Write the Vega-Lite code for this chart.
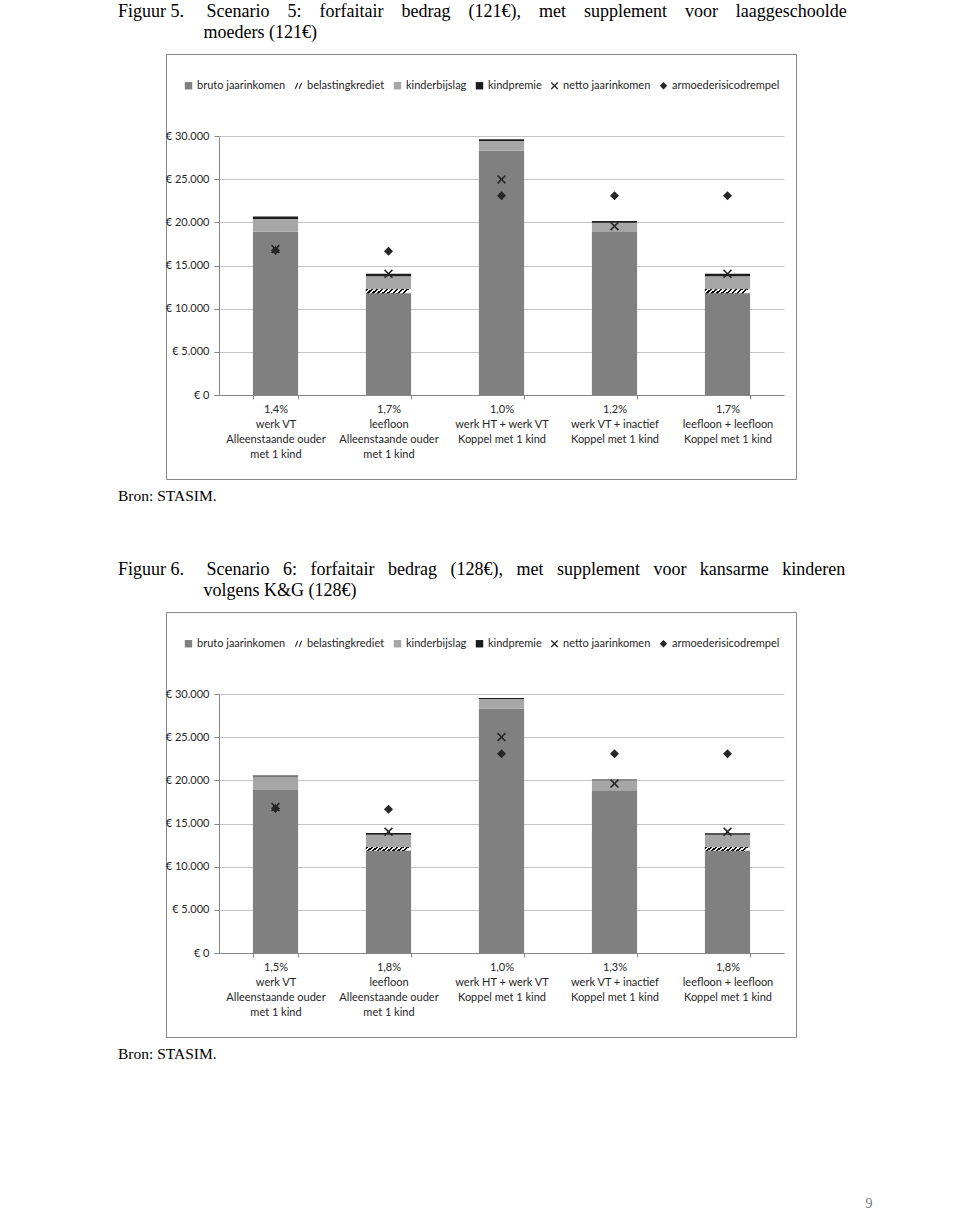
{
  "$schema": "https://vega.github.io/schema/vega-lite/v6.json",
  "background": "white",
  "padding": {"left": 117, "top": 2, "right": 0, "bottom": 0},
  "spacing": 55,
  "resolve": {"scale": {"color": "independent", "shape": "independent"}, "legend": {"color": "independent", "shape": "independent"}},
  "title": {"text": "9", "orient": "bottom", "anchor": "start", "align": "center", "dx": 703, "offset": 134, "font": "Liberation Serif", "fontSize": 14, "color": "#777777"},
  "config": {
    "font": "Lato",
    "view": {"stroke": "#878787", "strokeWidth": 1},
    "axis": {"labelFont": "Lato", "labelFontSize": 11, "labelColor": "#262626", "domainColor": "#868686", "tickColor": "#868686", "title": null},
    "legend": {"orient": "none", "legendX": 17, "legendY": 26, "direction": "horizontal", "title": null, "labelFont": "Lato", "labelFontSize": 11, "labelColor": "#262626", "symbolSize": 55, "labelOffset": 3, "columnPadding": 7, "symbolStrokeWidth": 0},
    "title": {"font": "Liberation Serif", "fontSize": 18, "fontWeight": "normal", "color": "#000000", "anchor": "start", "frame": "group", "lineHeight": 21}
  },
  "datasets": {
    "b5": [
      {"cat": "1,4%|werk VT|Alleenstaande ouder|met 1 kind", "series": "bruto jaarinkomen", "k": 1, "val": 18900},
      {"cat": "1,4%|werk VT|Alleenstaande ouder|met 1 kind", "series": "kinderbijslag", "k": 3, "val": 1500},
      {"cat": "1,4%|werk VT|Alleenstaande ouder|met 1 kind", "series": "kindpremie", "k": 4, "val": 280},
      {"cat": "1,7%|leefloon|Alleenstaande ouder|met 1 kind", "series": "bruto jaarinkomen", "k": 1, "val": 11800},
      {"cat": "1,7%|leefloon|Alleenstaande ouder|met 1 kind", "series": "belastingkrediet", "k": 2, "val": 460},
      {"cat": "1,7%|leefloon|Alleenstaande ouder|met 1 kind", "series": "kinderbijslag", "k": 3, "val": 1490},
      {"cat": "1,7%|leefloon|Alleenstaande ouder|met 1 kind", "series": "kindpremie", "k": 4, "val": 280},
      {"cat": "1,0%|werk HT + werk VT|Koppel met 1 kind", "series": "bruto jaarinkomen", "k": 1, "val": 28300},
      {"cat": "1,0%|werk HT + werk VT|Koppel met 1 kind", "series": "kinderbijslag", "k": 3, "val": 1120},
      {"cat": "1,0%|werk HT + werk VT|Koppel met 1 kind", "series": "kindpremie", "k": 4, "val": 200},
      {"cat": "1,2%|werk VT + inactief|Koppel met 1 kind", "series": "bruto jaarinkomen", "k": 1, "val": 18870},
      {"cat": "1,2%|werk VT + inactief|Koppel met 1 kind", "series": "kinderbijslag", "k": 3, "val": 1080},
      {"cat": "1,2%|werk VT + inactief|Koppel met 1 kind", "series": "kindpremie", "k": 4, "val": 200},
      {"cat": "1,7%|leefloon + leefloon|Koppel met 1 kind", "series": "bruto jaarinkomen", "k": 1, "val": 11800},
      {"cat": "1,7%|leefloon + leefloon|Koppel met 1 kind", "series": "belastingkrediet", "k": 2, "val": 460},
      {"cat": "1,7%|leefloon + leefloon|Koppel met 1 kind", "series": "kinderbijslag", "k": 3, "val": 1490},
      {"cat": "1,7%|leefloon + leefloon|Koppel met 1 kind", "series": "kindpremie", "k": 4, "val": 280}
    ],
    "p5": [
      {"cat": "1,4%|werk VT|Alleenstaande ouder|met 1 kind", "series": "armoederisicodrempel", "val": 16750},
      {"cat": "1,7%|leefloon|Alleenstaande ouder|met 1 kind", "series": "armoederisicodrempel", "val": 16660},
      {"cat": "1,0%|werk HT + werk VT|Koppel met 1 kind", "series": "armoederisicodrempel", "val": 23080},
      {"cat": "1,2%|werk VT + inactief|Koppel met 1 kind", "series": "armoederisicodrempel", "val": 23080},
      {"cat": "1,7%|leefloon + leefloon|Koppel met 1 kind", "series": "armoederisicodrempel", "val": 23080},
      {"cat": "1,4%|werk VT|Alleenstaande ouder|met 1 kind", "series": "netto jaarinkomen", "val": 16900},
      {"cat": "1,7%|leefloon|Alleenstaande ouder|met 1 kind", "series": "netto jaarinkomen", "val": 14030},
      {"cat": "1,0%|werk HT + werk VT|Koppel met 1 kind", "series": "netto jaarinkomen", "val": 24970},
      {"cat": "1,2%|werk VT + inactief|Koppel met 1 kind", "series": "netto jaarinkomen", "val": 19560},
      {"cat": "1,7%|leefloon + leefloon|Koppel met 1 kind", "series": "netto jaarinkomen", "val": 14030}
    ],
    "b6": [
      {"cat": "1,5%|werk VT|Alleenstaande ouder|met 1 kind", "series": "bruto jaarinkomen", "k": 1, "val": 18890},
      {"cat": "1,5%|werk VT|Alleenstaande ouder|met 1 kind", "series": "kinderbijslag", "k": 3, "val": 1545},
      {"cat": "1,5%|werk VT|Alleenstaande ouder|met 1 kind", "series": "kindpremie", "k": 4, "val": 120},
      {"cat": "1,8%|leefloon|Alleenstaande ouder|met 1 kind", "series": "bruto jaarinkomen", "k": 1, "val": 11840},
      {"cat": "1,8%|leefloon|Alleenstaande ouder|met 1 kind", "series": "belastingkrediet", "k": 2, "val": 420},
      {"cat": "1,8%|leefloon|Alleenstaande ouder|met 1 kind", "series": "kinderbijslag", "k": 3, "val": 1450},
      {"cat": "1,8%|leefloon|Alleenstaande ouder|met 1 kind", "series": "kindpremie", "k": 4, "val": 180},
      {"cat": "1,0%|werk HT + werk VT|Koppel met 1 kind", "series": "bruto jaarinkomen", "k": 1, "val": 28300},
      {"cat": "1,0%|werk HT + werk VT|Koppel met 1 kind", "series": "kinderbijslag", "k": 3, "val": 1120},
      {"cat": "1,0%|werk HT + werk VT|Koppel met 1 kind", "series": "kindpremie", "k": 4, "val": 120},
      {"cat": "1,3%|werk VT + inactief|Koppel met 1 kind", "series": "bruto jaarinkomen", "k": 1, "val": 18860},
      {"cat": "1,3%|werk VT + inactief|Koppel met 1 kind", "series": "kinderbijslag", "k": 3, "val": 1160},
      {"cat": "1,3%|werk VT + inactief|Koppel met 1 kind", "series": "kindpremie", "k": 4, "val": 80},
      {"cat": "1,8%|leefloon + leefloon|Koppel met 1 kind", "series": "bruto jaarinkomen", "k": 1, "val": 11840},
      {"cat": "1,8%|leefloon + leefloon|Koppel met 1 kind", "series": "belastingkrediet", "k": 2, "val": 420},
      {"cat": "1,8%|leefloon + leefloon|Koppel met 1 kind", "series": "kinderbijslag", "k": 3, "val": 1450},
      {"cat": "1,8%|leefloon + leefloon|Koppel met 1 kind", "series": "kindpremie", "k": 4, "val": 150}
    ],
    "p6": [
      {"cat": "1,5%|werk VT|Alleenstaande ouder|met 1 kind", "series": "armoederisicodrempel", "val": 16750},
      {"cat": "1,8%|leefloon|Alleenstaande ouder|met 1 kind", "series": "armoederisicodrempel", "val": 16650},
      {"cat": "1,0%|werk HT + werk VT|Koppel met 1 kind", "series": "armoederisicodrempel", "val": 23070},
      {"cat": "1,3%|werk VT + inactief|Koppel met 1 kind", "series": "armoederisicodrempel", "val": 23070},
      {"cat": "1,8%|leefloon + leefloon|Koppel met 1 kind", "series": "armoederisicodrempel", "val": 23070},
      {"cat": "1,5%|werk VT|Alleenstaande ouder|met 1 kind", "series": "netto jaarinkomen", "val": 16900},
      {"cat": "1,8%|leefloon|Alleenstaande ouder|met 1 kind", "series": "netto jaarinkomen", "val": 14050},
      {"cat": "1,0%|werk HT + werk VT|Koppel met 1 kind", "series": "netto jaarinkomen", "val": 25010},
      {"cat": "1,3%|werk VT + inactief|Koppel met 1 kind", "series": "netto jaarinkomen", "val": 19620},
      {"cat": "1,8%|leefloon + leefloon|Koppel met 1 kind", "series": "netto jaarinkomen", "val": 14050}
    ]
  },
  "vconcat": [
    {
      "title": {"text": ["Figuur 5.\u00a0\u00a0\u00a0\u00a0\u00a0Scenario\u00a0\u00a0\u00a0\u00a05:\u00a0\u00a0\u00a0\u00a0forfaitair\u00a0\u00a0\u00a0\u00a0bedrag\u00a0\u00a0\u00a0\u00a0(121€),\u00a0\u00a0\u00a0\u00a0met\u00a0\u00a0\u00a0\u00a0supplement\u00a0\u00a0\u00a0\u00a0voor\u00a0\u00a0\u00a0\u00a0laaggeschoolde", "\u200b\u00a0\u00a0\u00a0\u00a0\u00a0\u00a0\u00a0\u00a0\u00a0\u00a0\u00a0\u00a0\u00a0\u00a0\u00a0\u00a0\u00a0\u00a0\u00a0moeders (121€)"], "offset": 12, "dx": -48},
      "vconcat": [
        {
          "width": 630,
          "height": 425,
          "title": {"text": "Bron: STASIM.", "orient": "bottom", "dx": -48, "offset": 10, "fontSize": 15.5},
          "layer": [
            {
              "data": {"name": "b5"},
              "mark": {"type": "bar"},
              "encoding": {
                "x": {"field": "cat", "type": "nominal", "scale": {"domain": ["1,4%|werk VT|Alleenstaande ouder|met 1 kind", "1,7%|leefloon|Alleenstaande ouder|met 1 kind", "1,0%|werk HT + werk VT|Koppel met 1 kind", "1,2%|werk VT + inactief|Koppel met 1 kind", "1,7%|leefloon + leefloon|Koppel met 1 kind"], "range": [53, 618], "paddingInner": 0.6, "paddingOuter": 0.3},
                  "axis": {"orient": "bottom", "offset": -84, "tickBand": "extent", "tickSize": 4, "labelPadding": 4, "labelAngle": 0, "labelLineHeight": 15, "labelExpr": "split(datum.label, '|')", "grid": false}},
                "y": {"field": "val", "type": "quantitative", "stack": "zero", "scale": {"domain": [0, 30000], "range": [341, 82], "nice": false},
                  "axis": {"orient": "left", "offset": -53, "values": [0, 5000, 10000, 15000, 20000, 25000, 30000], "tickSize": 5, "labelPadding": 5, "grid": true, "gridColor": "#c4c4c4", "labelExpr": "'€ ' + replace(format(datum.value, ','), ',', '.')"}},
                "color": {"field": "series", "type": "nominal", "scale": {"domain": ["bruto jaarinkomen", "belastingkrediet", "kinderbijslag", "kindpremie", "netto jaarinkomen", "armoederisicodrempel"], "range": ["#808080", "#1a1a1a", "#a6a6a6", "#1c1c1c", "#262626", "#262626"]}},
                "order": {"field": "k", "type": "quantitative", "sort": "ascending"}
              }
            },
            {
              "data": {"name": "b5"},
              "mark": {"type": "bar"},
              "encoding": {
                "x": {"field": "cat", "type": "nominal"},
                "y": {"field": "val", "type": "quantitative", "stack": "zero"},
                "detail": {"field": "series", "type": "nominal"},
                "order": {"field": "k", "type": "quantitative", "sort": "ascending"},
                "fill": {"condition": {"test": "datum.series === 'belastingkrediet'", "value": {"gradient": "linear", "x1": 0, "y1": 0, "x2": 1, "y2": 0.1, "stops": [{"offset": 0, "color": "#000"}, {"offset": 0.0556, "color": "#000"}, {"offset": 0.0556, "color": "#fff"}, {"offset": 0.1111, "color": "#fff"}, {"offset": 0.1111, "color": "#000"}, {"offset": 0.1667, "color": "#000"}, {"offset": 0.1667, "color": "#fff"}, {"offset": 0.2222, "color": "#fff"}, {"offset": 0.2222, "color": "#000"}, {"offset": 0.2778, "color": "#000"}, {"offset": 0.2778, "color": "#fff"}, {"offset": 0.3333, "color": "#fff"}, {"offset": 0.3333, "color": "#000"}, {"offset": 0.3889, "color": "#000"}, {"offset": 0.3889, "color": "#fff"}, {"offset": 0.4444, "color": "#fff"}, {"offset": 0.4444, "color": "#000"}, {"offset": 0.5, "color": "#000"}, {"offset": 0.5, "color": "#fff"}, {"offset": 0.5556, "color": "#fff"}, {"offset": 0.5556, "color": "#000"}, {"offset": 0.6111, "color": "#000"}, {"offset": 0.6111, "color": "#fff"}, {"offset": 0.6667, "color": "#fff"}, {"offset": 0.6667, "color": "#000"}, {"offset": 0.7222, "color": "#000"}, {"offset": 0.7222, "color": "#fff"}, {"offset": 0.7778, "color": "#fff"}, {"offset": 0.7778, "color": "#000"}, {"offset": 0.8333, "color": "#000"}, {"offset": 0.8333, "color": "#fff"}, {"offset": 0.8889, "color": "#fff"}, {"offset": 0.8889, "color": "#000"}, {"offset": 0.9444, "color": "#000"}, {"offset": 0.9444, "color": "#fff"}, {"offset": 1, "color": "#fff"}]}}, "value": "transparent"}
              }
            },
            {
              "data": {"name": "p5"},
              "mark": {"type": "point", "filled": true, "opacity": 1, "size": 81},
              "encoding": {
                "x": {"field": "cat", "type": "nominal"},
                "y": {"field": "val", "type": "quantitative"},
                "color": {"field": "series", "type": "nominal"},
                "shape": {"field": "series", "type": "nominal", "scale": {"domain": ["bruto jaarinkomen", "belastingkrediet", "kinderbijslag", "kindpremie", "netto jaarinkomen", "armoederisicodrempel"], "range": ["square", "M-1,0.8L-0.35,-0.8L-0.05,-0.8L-0.7,0.8Z M0.05,0.8L0.7,-0.8L1,-0.8L0.35,0.8Z", "square", "square", "M0,-0.25L0.75,-1L1,-0.75L0.25,0L1,0.75L0.75,1L0,0.25L-0.75,1L-1,0.75L-0.25,0L-1,-0.75L-0.75,-1Z", "diamond"]}}
              }
            }
          ]
        }
      ]
    },
    {
      "title": {"text": ["Figuur 6.\u00a0\u00a0\u00a0\u00a0\u00a0Scenario\u00a0\u00a0\u00a06:\u00a0\u00a0\u00a0forfaitair\u00a0\u00a0\u00a0bedrag\u00a0\u00a0\u00a0(128€),\u00a0\u00a0\u00a0met\u00a0\u00a0\u00a0supplement\u00a0\u00a0\u00a0voor\u00a0\u00a0\u00a0kansarme\u00a0\u00a0\u00a0kinderen", "\u200b\u00a0\u00a0\u00a0\u00a0\u00a0\u00a0\u00a0\u00a0\u00a0\u00a0\u00a0\u00a0\u00a0\u00a0\u00a0\u00a0\u00a0\u00a0\u00a0volgens K&G (128€)"], "offset": 12, "dx": -48},
      "vconcat": [
        {
          "width": 630,
          "height": 425,
          "title": {"text": "Bron: STASIM.", "orient": "bottom", "dx": -48, "offset": 10, "fontSize": 15.5},
          "layer": [
            {
              "data": {"name": "b6"},
              "mark": {"type": "bar"},
              "encoding": {
                "x": {"field": "cat", "type": "nominal", "scale": {"domain": ["1,5%|werk VT|Alleenstaande ouder|met 1 kind", "1,8%|leefloon|Alleenstaande ouder|met 1 kind", "1,0%|werk HT + werk VT|Koppel met 1 kind", "1,3%|werk VT + inactief|Koppel met 1 kind", "1,8%|leefloon + leefloon|Koppel met 1 kind"], "range": [53, 618], "paddingInner": 0.6, "paddingOuter": 0.3},
                  "axis": {"orient": "bottom", "offset": -84, "tickBand": "extent", "tickSize": 4, "labelPadding": 4, "labelAngle": 0, "labelLineHeight": 15, "labelExpr": "split(datum.label, '|')", "grid": false}},
                "y": {"field": "val", "type": "quantitative", "stack": "zero", "scale": {"domain": [0, 30000], "range": [341, 82], "nice": false},
                  "axis": {"orient": "left", "offset": -53, "values": [0, 5000, 10000, 15000, 20000, 25000, 30000], "tickSize": 5, "labelPadding": 5, "grid": true, "gridColor": "#c4c4c4", "labelExpr": "'€ ' + replace(format(datum.value, ','), ',', '.')"}},
                "color": {"field": "series", "type": "nominal", "scale": {"domain": ["bruto jaarinkomen", "belastingkrediet", "kinderbijslag", "kindpremie", "netto jaarinkomen", "armoederisicodrempel"], "range": ["#808080", "#1a1a1a", "#a6a6a6", "#1c1c1c", "#262626", "#262626"]}},
                "order": {"field": "k", "type": "quantitative", "sort": "ascending"}
              }
            },
            {
              "data": {"name": "b6"},
              "mark": {"type": "bar"},
              "encoding": {
                "x": {"field": "cat", "type": "nominal"},
                "y": {"field": "val", "type": "quantitative", "stack": "zero"},
                "detail": {"field": "series", "type": "nominal"},
                "order": {"field": "k", "type": "quantitative", "sort": "ascending"},
                "fill": {"condition": {"test": "datum.series === 'belastingkrediet'", "value": {"gradient": "linear", "x1": 0, "y1": 0, "x2": 1, "y2": 0.1, "stops": [{"offset": 0, "color": "#000"}, {"offset": 0.0556, "color": "#000"}, {"offset": 0.0556, "color": "#fff"}, {"offset": 0.1111, "color": "#fff"}, {"offset": 0.1111, "color": "#000"}, {"offset": 0.1667, "color": "#000"}, {"offset": 0.1667, "color": "#fff"}, {"offset": 0.2222, "color": "#fff"}, {"offset": 0.2222, "color": "#000"}, {"offset": 0.2778, "color": "#000"}, {"offset": 0.2778, "color": "#fff"}, {"offset": 0.3333, "color": "#fff"}, {"offset": 0.3333, "color": "#000"}, {"offset": 0.3889, "color": "#000"}, {"offset": 0.3889, "color": "#fff"}, {"offset": 0.4444, "color": "#fff"}, {"offset": 0.4444, "color": "#000"}, {"offset": 0.5, "color": "#000"}, {"offset": 0.5, "color": "#fff"}, {"offset": 0.5556, "color": "#fff"}, {"offset": 0.5556, "color": "#000"}, {"offset": 0.6111, "color": "#000"}, {"offset": 0.6111, "color": "#fff"}, {"offset": 0.6667, "color": "#fff"}, {"offset": 0.6667, "color": "#000"}, {"offset": 0.7222, "color": "#000"}, {"offset": 0.7222, "color": "#fff"}, {"offset": 0.7778, "color": "#fff"}, {"offset": 0.7778, "color": "#000"}, {"offset": 0.8333, "color": "#000"}, {"offset": 0.8333, "color": "#fff"}, {"offset": 0.8889, "color": "#fff"}, {"offset": 0.8889, "color": "#000"}, {"offset": 0.9444, "color": "#000"}, {"offset": 0.9444, "color": "#fff"}, {"offset": 1, "color": "#fff"}]}}, "value": "transparent"}
              }
            },
            {
              "data": {"name": "p6"},
              "mark": {"type": "point", "filled": true, "opacity": 1, "size": 81},
              "encoding": {
                "x": {"field": "cat", "type": "nominal"},
                "y": {"field": "val", "type": "quantitative"},
                "color": {"field": "series", "type": "nominal"},
                "shape": {"field": "series", "type": "nominal", "scale": {"domain": ["bruto jaarinkomen", "belastingkrediet", "kinderbijslag", "kindpremie", "netto jaarinkomen", "armoederisicodrempel"], "range": ["square", "M-1,0.8L-0.35,-0.8L-0.05,-0.8L-0.7,0.8Z M0.05,0.8L0.7,-0.8L1,-0.8L0.35,0.8Z", "square", "square", "M0,-0.25L0.75,-1L1,-0.75L0.25,0L1,0.75L0.75,1L0,0.25L-0.75,1L-1,0.75L-0.25,0L-1,-0.75L-0.75,-1Z", "diamond"]}}
              }
            }
          ]
        }
      ]
    }
  ]
}
